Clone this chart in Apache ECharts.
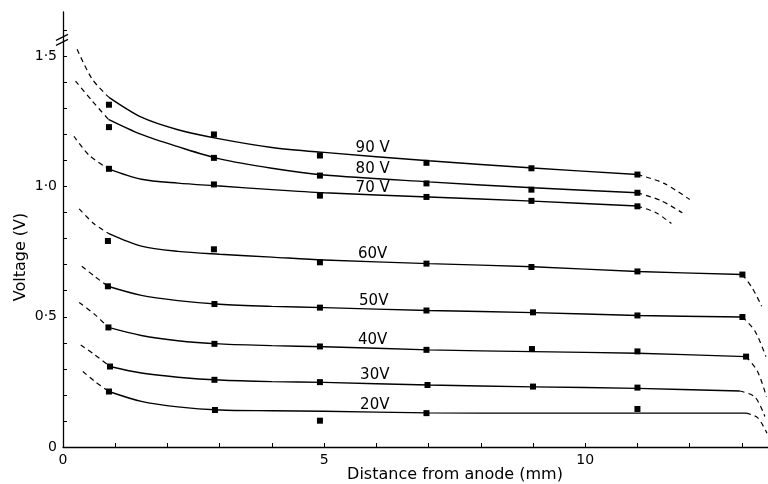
<!DOCTYPE html>
<html><head><meta charset="utf-8">
<script src="https://cdn.jsdelivr.net/npm/echarts@6/dist/echarts.min.js"></script>
<style>html,body{margin:0;padding:0;background:#fff}#c{width:768px;height:484px}</style>
</head><body><div id="c"></div>
<script>
// Curve labels and their positions (data coords)
const curveLabels = ['90 V', '80 V', '70 V', '60V', '50V', '40V', '30V', '20V'];
const labelX = [5.93, 5.93, 5.93, 5.93, 5.95, 5.93, 5.97, 5.97];
const labelY = [1.146, 1.066, 0.993, 0.740, 0.560, 0.410, 0.275, 0.160];

// Measured points [mm, V]
const pts90 = [[0.88,1.314],[2.89,1.20],[4.92,1.119],[6.96,1.091],[8.97,1.070],[11.0,1.046]];
const pts80 = [[0.88,1.228],[2.89,1.110],[4.92,1.042],[6.96,1.012],[8.97,0.988],[11.0,0.976]];
const pts70 = [[0.88,1.068],[2.89,1.008],[4.92,0.965],[6.96,0.960],[8.97,0.945],[11.0,0.924]];
const pts60 = [[0.86,0.791],[2.89,0.759],[4.92,0.709],[6.96,0.704],[8.97,0.691],[11.0,0.674],[13.01,0.662]];
const pts50 = [[0.86,0.617],[2.90,0.549],[4.92,0.535],[6.96,0.524],[9.0,0.517],[11.0,0.505],[13.01,0.499]];
const pts40 = [[0.87,0.459],[2.90,0.396],[4.92,0.386],[6.96,0.373],[8.98,0.376],[11.0,0.367],[13.08,0.347]];
const pts30 = [[0.90,0.309],[2.90,0.258],[4.92,0.249],[6.98,0.238],[9.0,0.232],[11.0,0.228]];
const pts20 = [[0.88,0.213],[2.91,0.142],[4.92,0.101],[6.96,0.130],[11.0,0.146]];

// Fitted curves: dashed lead-in, solid fit, dashed tail
const lead90 = [[0.27,1.527],[0.56,1.412],[0.88,1.342]];
const fit90 = [[0.88,1.342],[1.5,1.266],[2.2,1.218],[3.0,1.183],[4.0,1.150],[5.0,1.131],[7.0,1.099],[9.0,1.071],[11.0,1.046]];
const tail90 = [[11.0,1.046],[11.5,1.013],[12.0,0.95]];

const lead80 = [[0.24,1.405],[0.56,1.328],[0.87,1.258]];
const fit80 = [[0.87,1.258],[1.5,1.200],[2.2,1.153],[3.0,1.106],[4.0,1.070],[5.0,1.044],[7.0,1.018],[9.0,0.995],[11.0,0.976]];
const tail80 = [[11.0,0.976],[11.45,0.946],[11.86,0.899]];

const lead70 = [[0.21,1.193],[0.5,1.120],[0.87,1.068]];
const fit70 = [[0.87,1.068],[1.5,1.028],[2.2,1.013],[3.0,1.002],[4.0,0.988],[5.0,0.976],[7.0,0.960],[9.0,0.944],[11.0,0.925]];
const tail70 = [[11.0,0.925],[11.35,0.900],[11.65,0.858]];

const lead60 = [[0.31,0.914],[0.6,0.856],[0.88,0.819]];
const fit60 = [[0.88,0.819],[1.5,0.771],[2.2,0.751],[3.0,0.740],[4.0,0.729],[5.0,0.718],[7.0,0.704],[9.0,0.692],[11.0,0.674],[13.01,0.662]];
const tail60 = [[13.01,0.662],[13.2,0.610],[13.38,0.540]];

const lead50 = [[0.36,0.694],[0.6,0.656],[0.86,0.617]];
const fit50 = [[0.86,0.617],[1.5,0.582],[2.2,0.562],[3.0,0.548],[4.0,0.540],[5.0,0.535],[7.0,0.524],[9.0,0.516],[11.0,0.505],[13.01,0.499]];
const tail50 = [[13.01,0.499],[13.25,0.445],[13.46,0.347]];

const lead40 = [[0.31,0.555],[0.6,0.510],[0.87,0.459]];
const fit40 = [[0.87,0.459],[1.5,0.428],[2.2,0.408],[3.0,0.396],[4.0,0.389],[5.0,0.385],[7.0,0.373],[9.0,0.366],[11.0,0.360],[13.08,0.347]];
const tail40 = [[13.08,0.347],[13.3,0.290],[13.47,0.193]];

const lead30 = [[0.34,0.392],[0.6,0.355],[0.90,0.309]];
const fit30 = [[0.90,0.309],[1.5,0.284],[2.2,0.268],[3.0,0.257],[4.0,0.251],[5.0,0.248],[7.0,0.238],[9.0,0.231],[11.0,0.225],[12.96,0.215]];
const tail30 = [[12.96,0.215],[13.25,0.192],[13.44,0.117]];

const lead20 = [[0.38,0.290],[0.6,0.253],[0.88,0.213]];
const fit20 = [[0.88,0.213],[1.5,0.175],[2.2,0.154],[3.0,0.142],[4.0,0.139],[5.0,0.137],[7.0,0.131],[9.0,0.130],[11.0,0.130],[13.08,0.130]];
const tail20 = [[13.08,0.130],[13.3,0.113],[13.48,0.053]];

// Axis ranges / ticks
const xMin = 0, xMax = 13.5, xStep = 1;
const yMin = 0, yMax = 1.67, yStep = 0.1;

const groups = [
  [pts90, lead90, fit90, tail90],
  [pts80, lead80, fit80, tail80],
  [pts70, lead70, fit70, tail70],
  [pts60, lead60, fit60, tail60],
  [pts50, lead50, fit50, tail50],
  [pts40, lead40, fit40, tail40],
  [pts30, lead30, fit30, tail30],
  [pts20, lead20, fit20, tail20]
];

const INK = '#000';
const FONT = 'DejaVu Sans';
const series = [];
groups.forEach(function (g, i) {
  const lineBase = {type: 'line', symbol: 'none', smooth: 0.3, silent: true, z: 2};
  series.push(Object.assign({}, lineBase, {name: 'lead' + i, data: g[1], lineStyle: {color: INK, width: 1.2, type: [5, 4]}}));
  series.push(Object.assign({}, lineBase, {name: 'fit' + i, data: g[2], lineStyle: {color: INK, width: 1.4}}));
  series.push(Object.assign({}, lineBase, {name: 'tail' + i, data: g[3], lineStyle: {color: INK, width: 1.2, type: [5, 4]}}));
  series.push({type: 'scatter', name: 'pts' + i, data: g[0], symbol: 'rect', symbolSize: 6, itemStyle: {color: INK, opacity: 1}, z: 3, silent: true});
});
series.push({
  type: 'scatter', name: 'labels', symbolSize: 0, silent: true, z: 4,
  itemStyle: {opacity: 1},
  data: curveLabels.map(function (t, i) { return {value: [labelX[i], labelY[i]], name: t}; }),
  label: {show: true, position: 'inside', formatter: function (p) { return p.name; }, color: '#000', textBorderWidth: 0, fontFamily: FONT, fontSize: 15}
});

const chart = echarts.init(document.getElementById('c'), null, {renderer: 'canvas'});
chart.setOption({
  backgroundColor: '#fff',
  animation: false,
  grid: {left: 63, right: 0, top: 12, bottom: 37},
  xAxis: {
    type: 'value', min: xMin, max: xMax, interval: xStep,
    axisLine: {lineStyle: {color: INK, width: 1.3}},
    axisTick: {inside: true, length: 4, lineStyle: {color: INK}},
    splitLine: {show: false},
    axisLabel: {
      color: INK, fontFamily: FONT, fontSize: 14, margin: 6, showMaxLabel: false,
      formatter: function (v) { const r = Math.round(v); return (Math.abs(v - r) < 1e-6 && r % 5 === 0) ? String(r) : ''; }
    }
  },
  yAxis: {
    type: 'value', min: yMin, max: yMax, interval: yStep,
    axisLine: {lineStyle: {color: INK, width: 1.3}},
    axisTick: {inside: true, length: 4, lineStyle: {color: INK}},
    splitLine: {show: false},
    axisLabel: {
      color: INK, fontFamily: FONT, fontSize: 14, margin: 6, showMaxLabel: false,
      formatter: function (v) {
        const r = Math.round(v * 10);
        if (Math.abs(v * 10 - r) > 1e-3 || r % 5 !== 0) return '';
        return r === 0 ? '0' : (r / 10).toFixed(1).replace('.', '\u00b7');
      }
    }
  },
  series: series
});

// Axis titles and the axis-break mark
const b = chart.convertToPixel({gridIndex: 0}, [0, 1.565]);
chart.setOption({
  graphic: [
    {type: 'text', x: 455, y: 475, style: {text: 'Distance from anode (mm)', fill: INK, font: '16px "' + FONT + '"', textAlign: 'center', textVerticalAlign: 'middle'}},
    {type: 'text', x: 21, y: 257, rotation: Math.PI / 2, style: {text: 'Voltage (V)', fill: INK, font: '16px "' + FONT + '"', textAlign: 'center', textVerticalAlign: 'middle'}},
    {type: 'line', shape: {x1: b[0] - 7, y1: b[1] + 1, x2: b[0] + 5, y2: b[1] - 5}, style: {stroke: INK, lineWidth: 1.2}},
    {type: 'line', shape: {x1: b[0] - 7, y1: b[1] + 6, x2: b[0] + 5, y2: b[1]}, style: {stroke: INK, lineWidth: 1.2}}
  ]
});
</script>
</body></html>
